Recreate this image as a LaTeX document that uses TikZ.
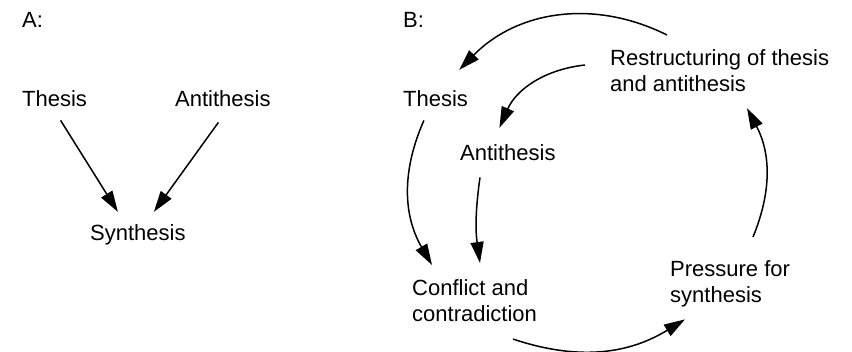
\documentclass[tikz,border=0pt]{standalone}
\usepackage{fontspec}
\setmainfont{Liberation Sans}
\usepackage{tikz}
\usetikzlibrary{arrows.meta}

\tikzset{
  lbl/.style={inner sep=0pt, font=\fontsize{22}{26.5}\selectfont, align=left},
  arr/.style={-{Triangle[length=21pt,width=13pt]}, line width=1.5pt}
}

\begin{document}
\begin{tikzpicture}[x=1pt, y=-1pt]
  \useasboundingbox (0,0) rectangle (852,352);
  % A
  \node[lbl, anchor=base west] (labA) at (22,28) {A:};
  \node[lbl, anchor=base west] (thA) at (22,107) {Thesis};
  \node[lbl, anchor=base west] (anA) at (175,107) {Antithesis};
  \node[lbl, anchor=base west] (syn) at (90,241) {Synthesis};
  \draw[arr] ([shift={(6,13)}]thA.south) -- ([shift={(-20,-13)}]syn.north);
  \draw[arr] ([shift={(-4.5,15)}]anA.south) -- ([shift={(16,-13)}]syn.north);
  % B
  \node[lbl, anchor=base west] (labB) at (403,28) {B:};
  \node[lbl, anchor=base west] (thB) at (403,107) {Thesis};
  \node[lbl, anchor=base west] (anB) at (460,161) {Antithesis};
  \node[lbl, anchor=north west] (res) at (610,49) {Restructuring of thesis\\and antithesis};
  \node[lbl, anchor=north west] (con) at (412,279) {Conflict and\\contradiction};
  \node[lbl, anchor=north west] (pre) at (670,260) {Pressure for\\synthesis};
  \draw[arr] ([shift={(57,-14)}]res.north west) to[bend right=36] ([shift={(-9,-21)}]thB.north east);
  \draw[arr] ([shift={(-25,16)}]res.north west) to[bend right=30] ([shift={(-8.5,-17)}]anB.north);
  \draw[arr] ([shift={(-11.7,13)}]thB.south) to[bend right=27] ([shift={(20,-14)}]con.north west);
  \draw[arr] ([shift={(20,16)}]anB.south west) to[bend right=8] ([shift={(68,-16)}]con.north west);
  \draw[arr] ([shift={(101,17)}]con.south west) to[bend right=25] ([shift={(15,12)}]pre.south west);
  \draw[arr] ([shift={(83,-23)}]pre.north west) to[bend right=25] ([shift={(137,16)}]res.south west);
\end{tikzpicture}
\end{document}
